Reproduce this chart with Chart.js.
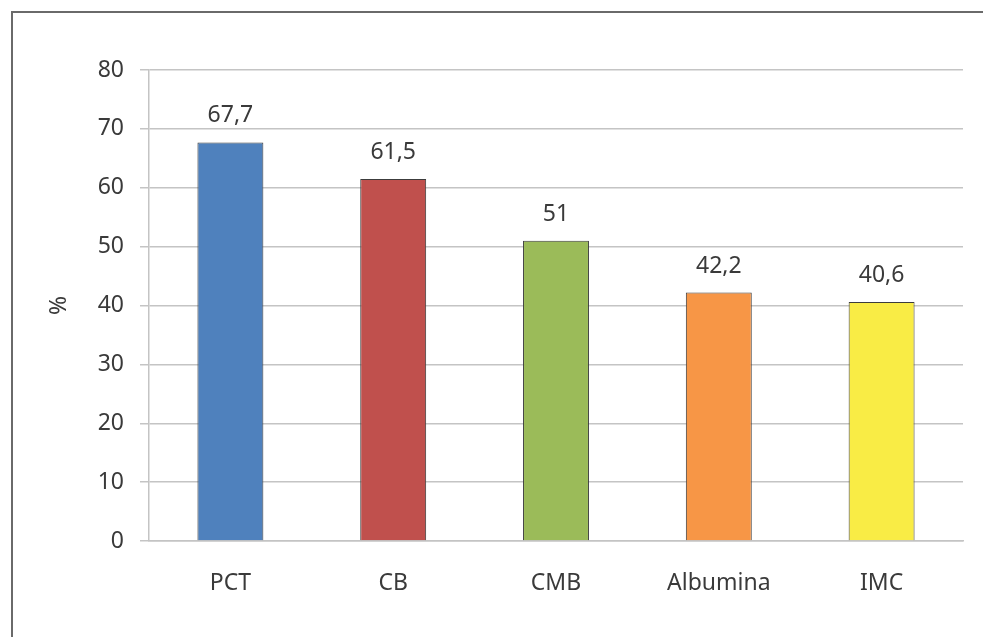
<!DOCTYPE html>
<html>
<head>
<meta charset="utf-8">
<script src="https://cdn.jsdelivr.net/npm/chart.js@4/dist/chart.umd.min.js"></script>
<style>
  html, body { margin: 0; padding: 0; background: #fff; }
  #wrap { position: relative; width: 983px; height: 637px; overflow: hidden; }
  #frame { position: absolute; left: 11px; top: 11px; width: 990px; height: 660px;
           border-top: 2px solid #6a6a6a; border-left: 2px solid #6a6a6a; }
  canvas { position: absolute; left: 0; top: 0; }
</style>
</head>
<body>
<div id="wrap">
  <div id="frame"></div>
  <canvas id="c" width="983" height="637"></canvas>
</div>
<script>
// Percentages per indicator
const categories = ['PCT', 'CB', 'CMB', 'Albumina', 'IMC'];
const values = [67.7, 61.5, 51, 42.2, 40.6];
const valueLabels = ['67,7', '61,5', '51', '42,2', '40,6'];
const barColors = ['#4F81BD', '#C0504D', '#9BBB59', '#F79646', '#F9EC45'];
const yTicks = [0, 10, 20, 30, 40, 50, 60, 70, 80];

const FONT = "'Noto Sans', 'Open Sans', sans-serif";
const TEXT = '#3a3a3a';
const SIZE = 23;

// Value labels above the bars and the rotated "%" axis title
const annotate = {
  id: 'annotate',
  afterDatasetsDraw(chart) {
    const ctx = chart.ctx;
    const meta = chart.getDatasetMeta(0);
    ctx.save();
    ctx.fillStyle = TEXT;
    ctx.font = SIZE + 'px ' + FONT;
    ctx.textAlign = 'center';
    ctx.textBaseline = 'alphabetic';
    meta.data.forEach((bar, i) => {
      ctx.fillText(valueLabels[i], bar.x, bar.y - 20);
    });
    const area = chart.chartArea;
    ctx.translate(59, (area.top + area.bottom) / 2);
    ctx.rotate(-Math.PI / 2);
    ctx.textBaseline = 'middle';
    ctx.fillText('%', 0, 0);
    ctx.restore();
  }
};

new Chart(document.getElementById('c'), {
  type: 'bar',
  data: {
    labels: categories,
    datasets: [{
      data: values,
      backgroundColor: barColors,
      borderColor: '#3c3c3c',
      borderWidth: 1,
      categoryPercentage: 1,
      barPercentage: 0.405
    }]
  },
  options: {
    responsive: false,
    animation: false,
    layout: { padding: { left: 0, right: 20, top: 70, bottom: 0 } },
    plugins: { legend: { display: false }, tooltip: { enabled: false } },
    scales: {
      x: {
        grid: { display: false, drawTicks: false },
        border: { display: true, color: '#c4c4c4', width: 1.5 },
        ticks: { color: TEXT, font: { family: FONT, size: SIZE }, padding: 29 },
        afterFit(s) { s.height = 96; }
      },
      y: {
        min: 0, max: 80,
        afterBuildTicks(s) { s.ticks = yTicks.map(v => ({ value: v })); },
        grid: { color: '#c4c4c4', lineWidth: 1.5, tickLength: 9 },
        border: { display: true, color: '#c4c4c4', width: 1.5 },
        ticks: { color: TEXT, font: { family: FONT, size: SIZE }, padding: 16 },
        afterFit(s) { s.width = 149; }
      }
    }
  },
  plugins: [annotate]
});
</script>
</body>
</html>
